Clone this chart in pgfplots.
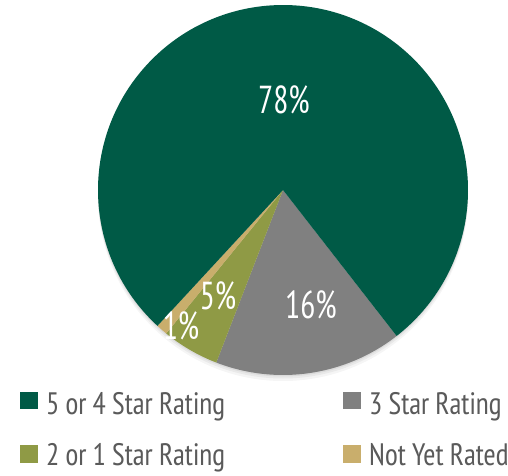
\documentclass[border=0pt]{standalone}
\usepackage{pgfplots}
\pgfplotsset{compat=1.18}
\usepackage{fontspec}
\setmainfont{PT Sans Narrow}[FakeStretch=0.95]
\newfontfamily\labelfont{PT Sans Narrow}[FakeStretch=0.86]
\definecolor{cGreen}{HTML}{005A46}
\definecolor{cGray}{HTML}{808080}
\definecolor{cOlive}{HTML}{8F9A45}
\definecolor{cTan}{HTML}{C9AE6C}
\definecolor{cText}{HTML}{5A5A5A}
% data (percent)
\def\vGray{16.4}
\def\vOlive{5.0}
\def\vTan{1.0}
\def\vGreen{77.6}
\pgfmathsetmacro{\aA}{-52.1}
\pgfmathsetmacro{\aB}{\aA-3.6*\vGray}
\pgfmathsetmacro{\aC}{\aB-3.6*\vOlive}
\pgfmathsetmacro{\aD}{\aC-3.6*\vTan}
\pgfmathsetmacro{\aE}{\aD-3.6*\vGreen}
\begin{document}
\begin{tikzpicture}
\begin{axis}[
  x=1pt, y=1pt, xmin=0, xmax=508, ymin=0, ymax=475,
  hide axis, clip=false, scale only axis]
% soft shadow (bottom only)
\fill[black, opacity=0.04] (axis cs:283,279) circle[radius=185pt];
\fill[black, opacity=0.05] (axis cs:283,281.5) circle[radius=185pt];
\fill[black, opacity=0.06] (axis cs:283,283.5) circle[radius=185pt];
\fill[cGray]  (axis cs:283,285) -- ++(\aA:185pt) arc[start angle=\aA, end angle=\aB, radius=185pt] -- cycle;
\fill[cOlive] (axis cs:283,285) -- ++(\aB:185pt) arc[start angle=\aB, end angle=\aC, radius=185pt] -- cycle;
\fill[cTan]   (axis cs:283,285) -- ++(\aC:185pt) arc[start angle=\aC, end angle=\aD, radius=185pt] -- cycle;
\fill[cGreen] (axis cs:283,285) -- ++(\aD:185pt) arc[start angle=\aD, end angle=\aE, radius=185pt] -- cycle;
\begin{scope}[every node/.style={white, inner sep=0pt, font=\labelfont\fontsize{39}{40}\selectfont}]
\node at (axis cs:284,375) {78\%};
\node at (axis cs:311,170) {16\%};
\node at (axis cs:218,179) {5\%};
\node at (axis cs:181,149) {1\%};
\end{scope}
% legend
\fill[cGreen] (axis cs:20,66) rectangle (axis cs:38,83);
\fill[cGray]  (axis cs:343,66) rectangle (axis cs:361,83);
\fill[cOlive] (axis cs:20,12) rectangle (axis cs:38,30);
\fill[cTan]   (axis cs:343,12) rectangle (axis cs:361,30);
\begin{scope}[every node/.style={anchor=base west, inner sep=0pt, text=cText, font=\fontsize{31}{32}\selectfont}]
\node at (axis cs:46,61) {5 or 4 Star Rating};
\node at (axis cs:369,61) {3 Star Rating};
\node at (axis cs:46,10) {2 or 1 Star Rating};
\node at (axis cs:369,10) {Not Yet Rated};
\end{scope}
\end{axis}
\pgfresetboundingbox
\path (current axis.south west) rectangle (current axis.north east);
\end{tikzpicture}
\end{document}
